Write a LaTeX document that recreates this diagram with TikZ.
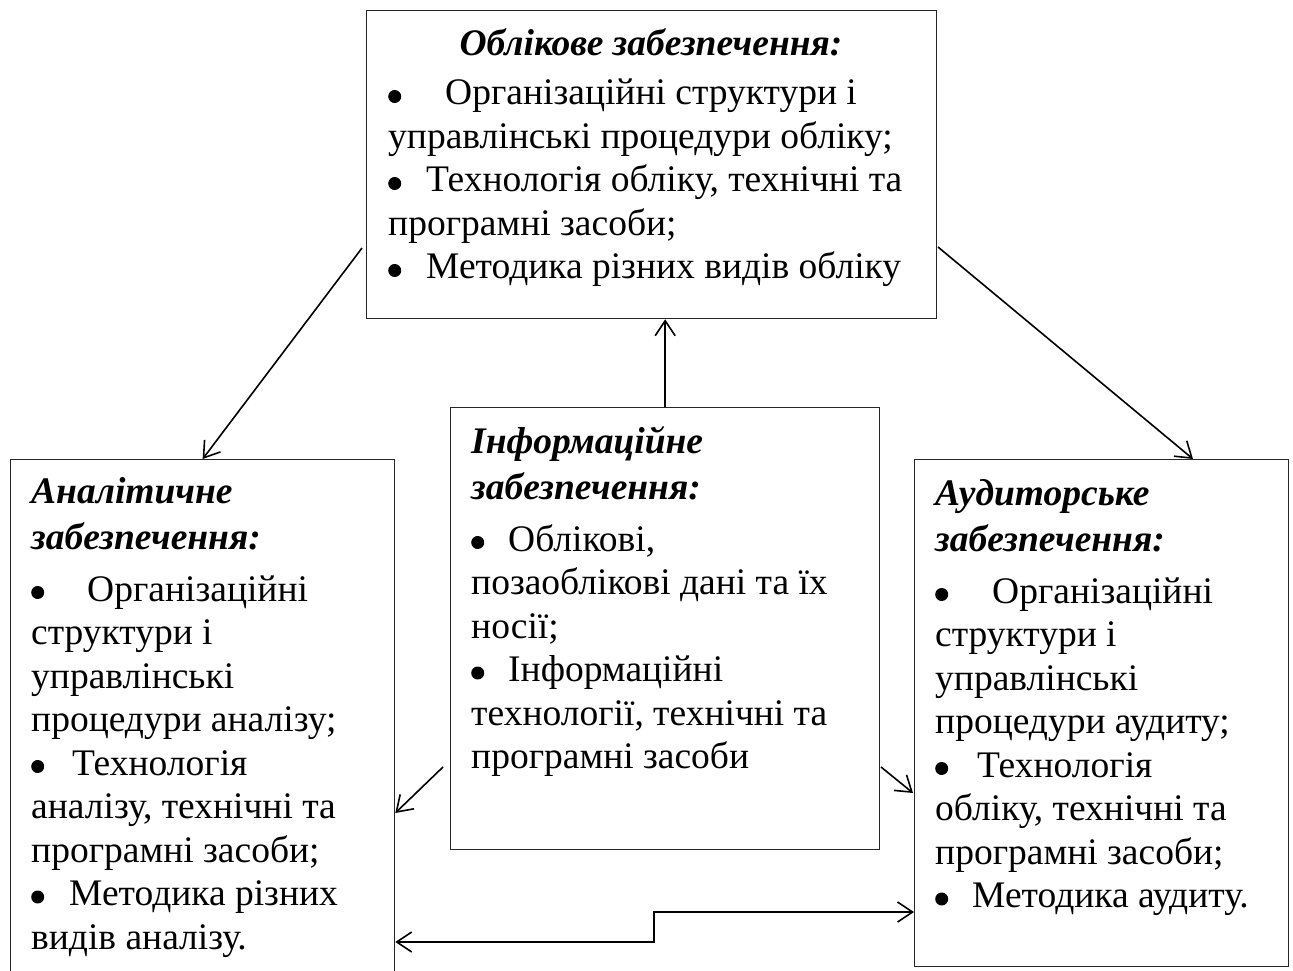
\documentclass[tikz,border=0pt]{standalone}
\usepackage{fontspec}
\setmainfont{Liberation Serif}
\usetikzlibrary{arrows.meta,calc}
\newcommand{\bul}[1]{\makebox[#1pt][l]{\tikz[baseline=0pt,x=1pt,y=1pt]\fill (6.5,8.5) circle[x radius=6.5,y radius=6.5];}}
\newcommand{\lines}[2]{\parbox[t]{#1pt}{\lineskiplimit=-100pt\raggedright #2}}
\begin{document}
\begin{tikzpicture}[x=1pt,y=-1pt,
  box/.style={draw=black!85,line width=1.3pt,rectangle,inner sep=0pt,anchor=north west},
  txt/.style={anchor=base west,inner sep=0pt,font=\fontsize{37.5}{43.5}\selectfont},
  ttl/.style={anchor=base,inner sep=0pt,font=\fontsize{37.5}{43.5}\selectfont\bfseries\itshape},
  conn/.style={line width=1.6pt,-{Straight Barb[length=15pt,width=20pt,line width=1.6pt]}},
  dconn/.style={line width=1.6pt,{Straight Barb[length=15pt,width=20pt,line width=1.6pt]}-{Straight Barb[length=15pt,width=20pt,line width=1.6pt]}},
]
\useasboundingbox (0,0) rectangle (1293,971);
\fill[white] (0,0) rectangle (1293,971);
\begin{scope}
\clip (0,0) rectangle (1293,971);
% boxes
\node[box,minimum width=570pt,minimum height=308pt] (T) at (366,10) {};
\node[box,minimum width=384pt,minimum height=560pt] (L) at (10,459) {};
\node[box,minimum width=429pt,minimum height=442pt] (M) at (450,407) {};
\node[box,minimum width=374pt,minimum height=507pt] (R) at (914,459) {};

% texts
\node[ttl] (Tt) at (651,56) {Облікове забезпечення:};
\node[txt] (Tb) at (388,105) {\lines{540}{%
\bul{57}Організаційні структури і\\
управлінські процедури обліку;\\
\bul{38}Технологія обліку, технічні та\\
програмні засоби;\\
\bul{38}Методика різних видів обліку}};

\node[txt] (Lt) at (31,503) {\lines{360}{%
\textbf{\textit{Аналітичне}}\\[3pt]
\textbf{\textit{забезпечення:}}\\[8pt]
\bul{56}Організаційні\\
структури і\\
управлінські\\
процедури аналізу;\\
\bul{41}Технологія\\
аналізу, технічні та\\
програмні засоби;\\
\bul{38}Методика різних\\
видів аналізу.}};

\node[txt] (Mt) at (471,453) {\lines{400}{%
\textbf{\textit{Інформаційне}}\\[3pt]
\textbf{\textit{забезпечення:}}\\[8pt]
\bul{37}Облікові,\\
позаоблікові дані та їх\\
носії;\\
\bul{37}Інформаційні\\
технології, технічні та\\
програмні засоби}};

\node[txt] (Rt) at (935,505) {\lines{350}{%
\textbf{\textit{Аудиторське}}\\[3pt]
\textbf{\textit{забезпечення:}}\\[8pt]
\bul{57}Організаційні\\
структури і\\
управлінські\\
процедури аудиту;\\
\bul{42}Технологія\\
обліку, технічні та\\
програмні засоби;\\
\bul{37}Методика аудиту.}};

% connectors
\coordinate (tl) at (362,248);
\coordinate (tr) at (938,247);
\coordinate (ml) at (443,767);
\coordinate (mr) at (881,767);
\coordinate (s1) at (654,942);
\coordinate (s2) at (654,912);
\draw[conn] (tl) -- (L.north);
\draw[conn] (tr) -- ($(R.north west)+(279,0)$);
\draw[conn] (M.north) -- (M.north |- T.south);
\draw[conn] (ml) -- ($(L.north east)+(0,354)$);
\draw[conn] (mr) -- ($(R.north west)+(-1,334)$);
\draw[dconn] ($(L.north east)+(0,483)$) -- (s1) -- (s2) -- ($(R.north west)+(0,453)$);
\end{scope}
\end{tikzpicture}
\end{document}
